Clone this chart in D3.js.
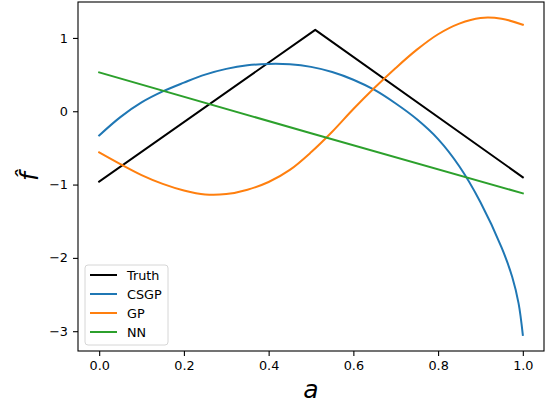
<!DOCTYPE html>
<html>
<head>
<meta charset="utf-8">
<script src="https://cdn.jsdelivr.net/npm/d3@7"></script>
<style>
  body { margin: 0; background: #fff; }
  text { font-family: "DejaVu Sans", sans-serif; }
</style>
</head>
<body>
<div id="chart"></div>
<script>
// values
var xTicks = [0.0, 0.2, 0.4, 0.6, 0.8, 1.0];
var yTicks = [-3, -2, -1, 0, 1];

var truthX = [0, 0.51, 1];
var truthY = [-0.96, 1.11, -0.90];

var gridX = [0, 0.05, 0.10, 0.15, 0.20, 0.25, 0.30, 0.35, 0.40, 0.45, 0.50,
             0.55, 0.60, 0.65, 0.70, 0.75, 0.80, 0.85, 0.90, 0.95, 1.00];
var gpY = [-0.56, -0.72, -0.87, -0.99, -1.08, -1.135, -1.13, -1.07, -0.965, -0.80, -0.56,
           -0.28, 0.03, 0.32, 0.59, 0.84, 1.05, 1.195, 1.272, 1.262, 1.18];

var csgpX = [0, 0.05, 0.10, 0.15, 0.20, 0.25, 0.30, 0.35, 0.40, 0.45, 0.50,
             0.55, 0.60, 0.65, 0.70, 0.75, 0.80, 0.85, 0.90, 0.95, 0.975, 0.99, 1.00];
var csgpY = [-0.33, -0.08, 0.12, 0.27, 0.39, 0.50, 0.578, 0.627, 0.645, 0.64, 0.605,
             0.535, 0.43, 0.29, 0.105, -0.11, -0.38, -0.75, -1.24, -1.86, -2.26, -2.62, -3.05];

var nnX = [0, 0.5, 1];
var nnY = [0.53, -0.30, -1.12];

var series = [
  {name: 'Truth', color: '#000000', xs: truthX, ys: truthY, smooth: false},
  {name: 'CSGP', color: '#1f77b4', xs: csgpX, ys: csgpY, smooth: true},
  {name: 'GP', color: '#ff7f0e', xs: gridX, ys: gpY, smooth: true},
  {name: 'NN', color: '#2ca02c', xs: nnX, ys: nnY, smooth: false}
];

var W = 545, H = 404;
var margin = {top: 2, right: 1, bottom: 53, left: 78};
var width = W - margin.left - margin.right,
    height = H - margin.top - margin.bottom;

var x = d3.scaleLinear().domain([-0.05, 1.05]).range([0, width]);
var y = d3.scaleLinear().domain([-3.27, 1.49]).range([height, 0]);

var svg = d3.select('#chart')
    .append('svg')
    .attr('width', W)
    .attr('height', H);

var g = svg.append('g')
    .attr('transform', 'translate(' + margin.left + ',' + margin.top + ')');

var line = d3.line()
    .x(function(d) { return x(d[0]); })
    .y(function(d) { return y(d[1]); });

series.forEach(function(s) {
  var pts = s.xs.map(function(v, i) { return [v, s.ys[i]]; });
  line.curve(s.smooth ? d3.curveCatmullRom.alpha(0.5) : d3.curveLinear);
  g.append('path')
      .datum(pts)
      .attr('fill', 'none')
      .attr('stroke', s.color)
      .attr('stroke-width', 2)
      .attr('stroke-linejoin', 'round')
      .attr('stroke-linecap', 'square')
      .attr('d', line);
});

// axes
var fmtY = function(d) { return d < 0 ? '\u2212' + Math.abs(d) : String(d); };

var xAxis = g.append('g')
    .attr('transform', 'translate(0,' + height + ')')
    .call(d3.axisBottom(x).tickValues(xTicks).tickFormat(d3.format('.1f'))
          .tickSize(5).tickPadding(5));
var yAxis = g.append('g')
    .call(d3.axisLeft(y).tickValues(yTicks).tickFormat(fmtY)
          .tickSize(5).tickPadding(5));

[xAxis, yAxis].forEach(function(a) {
  a.select('.domain').remove();
  a.selectAll('line').attr('stroke', '#000').attr('stroke-width', 1.1);
  a.selectAll('text').attr('font-size', '12.8px').attr('fill', '#000')
      .attr('font-family', '"DejaVu Sans", sans-serif');
});

// frame
g.append('rect')
    .attr('x', 0).attr('y', 0)
    .attr('width', width).attr('height', height)
    .attr('fill', 'none')
    .attr('stroke', '#000')
    .attr('stroke-width', 1.1);

// axis labels
svg.append('text')
    .attr('x', margin.left + x(0.5))
    .attr('y', 398)
    .attr('text-anchor', 'middle')
    .attr('font-size', '25px')
    .attr('font-style', 'italic')
    .text('a');

svg.append('text')
    .attr('transform', 'translate(38,' + (margin.top + height / 2) + ') rotate(-90)')
    .attr('text-anchor', 'middle')
    .attr('font-size', '25px')
    .attr('font-style', 'italic')
    .text('f\u0302');

// legend
var leg = g.append('g')
    .attr('transform', 'translate(' + (85 - margin.left) + ',' + (265 - margin.top) + ')');
leg.append('rect')
    .attr('width', 83).attr('height', 80)
    .attr('rx', 3)
    .attr('fill', '#fff').attr('fill-opacity', 0.8)
    .attr('stroke', '#d6d6d6');
series.forEach(function(s, i) {
  var yy = 10 + i * 19;
  leg.append('line')
      .attr('x1', 5).attr('x2', 32)
      .attr('y1', yy).attr('y2', yy)
      .attr('stroke', s.color).attr('stroke-width', 2);
  leg.append('text')
      .attr('x', 42).attr('y', yy)
      .attr('dy', '0.36em')
      .attr('font-size', '12.8px')
      .text(s.name);
});
</script>
</body>
</html>
